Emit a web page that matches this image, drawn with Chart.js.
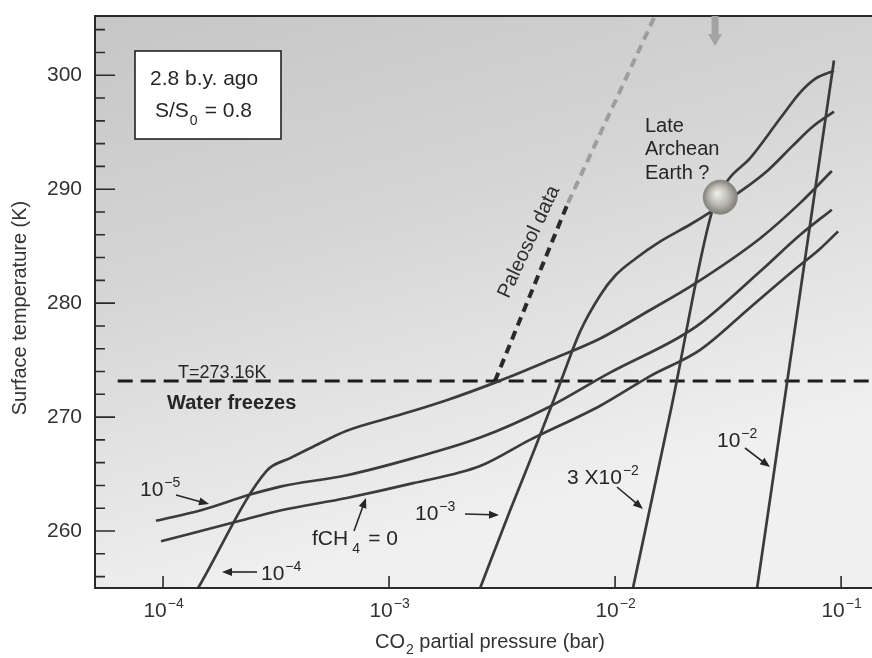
<!DOCTYPE html>
<html lang="en">
<head>
<meta charset="utf-8">
<title>Late Archean surface temperature vs CO2</title>
<script src="https://cdn.jsdelivr.net/npm/chart.js"></script>
<style>
  html, body { margin: 0; padding: 0; background: #fff; }
  canvas { display: block; }
</style>
</head>
<body>
<canvas id="chart" width="872" height="658"></canvas>
<script>
// CO2 partial pressure (bar) -> surface temperature (K)
// fCH4 = 0
const co2None  = [9.8e-5, 2.19e-4, 3.30e-4, 6.5e-4, 1.28e-3, 2.53e-3, 4.2e-3, 8.6e-3, 1.43e-2, 2.38e-2, 3.95e-2, 6.1e-2, 8.1e-2, 9.7e-2];
const tempNone = [259.1, 260.9, 261.8, 262.9, 264.2, 265.7, 268.0, 271.0, 273.6, 275.9, 279.6, 282.8, 284.8, 286.3];
// fCH4 = 1e-5
const co2E5  = [9.3e-5, 1.46e-4, 2.43e-4, 3.30e-4, 6.5e-4, 1.28e-3, 2.53e-3, 5.0e-3, 9.5e-3, 1.88e-2, 2.38e-2, 4.39e-2, 6.6e-2, 9.1e-2];
const tempE5 = [260.9, 261.8, 263.2, 263.9, 264.9, 266.4, 268.2, 270.8, 273.9, 276.9, 278.2, 282.8, 286.0, 288.2];
// fCH4 = 1e-4
const co2E4  = [1.43e-4, 2.88e-4, 3.65e-4, 4.61e-4, 6.5e-4, 1.12e-3, 1.81e-3, 3.10e-3, 5.15e-3, 8.6e-3, 1.43e-2, 2.21e-2, 4.39e-2, 6.6e-2, 9.1e-2];
const tempE4 = [255.0, 265.3, 266.4, 267.4, 268.8, 270.2, 271.5, 273.2, 275.0, 276.9, 279.4, 281.6, 285.7, 288.8, 291.6];
// fCH4 = 1e-3
const co2E3  = [2.53e-3, 3.43e-3, 4.43e-3, 5.72e-3, 7.0e-3, 8.6e-3, 1.0e-2, 1.23e-2, 1.58e-2, 2.15e-2, 2.69e-2, 3.47e-2, 4.71e-2, 6.1e-2, 7.5e-2, 9.3e-2];
const tempE3 = [255.0, 261.8, 267.3, 273.0, 277.5, 280.7, 282.4, 283.9, 285.4, 286.9, 288.1, 289.6, 291.6, 293.8, 295.5, 296.8];
// fCH4 = 3e-2
const co2E2x3  = [1.20e-2, 1.79e-2, 2.69e-2, 3.16e-2, 3.95e-2, 5.37e-2, 6.6e-2, 7.7e-2, 9.3e-2];
const tempE2x3 = [255.0, 271.2, 288.1, 290.8, 292.7, 296.2, 298.5, 299.7, 300.4];
// fCH4 = 1e-2
const co2E2  = [4.25e-2, 9.3e-2];
const tempE2 = [255.0, 301.3];

// freezing point of water
const freezeCO2  = [6.3e-5, 0.14];
const freezeTemp = [273.16, 273.16];
// paleosol constraint (dark part, then faint part)
const paleoCO2   = [2.94e-3, 6.19e-3];
const paleoTemp  = [273.16, 288.8];
const paleoCO2b  = [6.19e-3, 1.50e-2];
const paleoTempb = [288.8, 305.2];
// late Archean Earth marker and the arrow at the top
const archeanCO2  = [2.92e-2];
const archeanTemp = [289.3];
const arrowCO2 = [2.77e-2];

// axes
const xTicks = [1e-4, 1e-3, 1e-2, 1e-1];
const xTickExp = ['\u22124', '\u22123', '\u22122', '\u22121'];
const yTicks = [260, 270, 280, 290, 300];
const yMinor = [256, 258, 262, 264, 266, 268, 272, 274, 276, 278, 282, 284, 286, 288, 292, 294, 296, 298, 302, 304];

const F = '"Liberation Sans", Arial, Helvetica, sans-serif';
const INK = '#262626';
const CURVE = '#3b3b3b';

function pts(xs, ys) { return xs.map((x, i) => ({ x: x, y: ys[i] })); }

function curve(xs, ys) {
  return { data: pts(xs, ys), borderColor: CURVE, borderWidth: 2.7, cubicInterpolationMode: 'monotone' };
}

// text with a superscript (or subscript when shift < 0)
function pow(ctx, base, exp, x, y, size, align, shift) {
  const es = Math.round(size * 0.68);
  ctx.font = size + 'px ' + F;
  const wb = ctx.measureText(base).width;
  ctx.font = es + 'px ' + F;
  const we = ctx.measureText(exp).width;
  let x0 = x;
  if (align === 'center') x0 = x - (wb + we) / 2;
  if (align === 'right') x0 = x - wb - we;
  ctx.textAlign = 'left';
  ctx.textBaseline = 'alphabetic';
  ctx.font = size + 'px ' + F;
  ctx.fillText(base, x0, y);
  ctx.font = es + 'px ' + F;
  ctx.fillText(exp, x0 + wb + 1, y - (shift === undefined ? size * 0.45 : shift));
  return x0 + wb + 1 + we;
}

function arrow(ctx, x1, y1, x2, y2) {
  const a = Math.atan2(y2 - y1, x2 - x1), h = 10, w = 4;
  ctx.beginPath();
  ctx.moveTo(x1, y1);
  ctx.lineTo(x2 - Math.cos(a) * h * 0.7, y2 - Math.sin(a) * h * 0.7);
  ctx.stroke();
  ctx.beginPath();
  ctx.moveTo(x2, y2);
  ctx.lineTo(x2 - h * Math.cos(a) + w * Math.sin(a), y2 - h * Math.sin(a) - w * Math.cos(a));
  ctx.lineTo(x2 - h * Math.cos(a) - w * Math.sin(a), y2 - h * Math.sin(a) + w * Math.cos(a));
  ctx.closePath();
  ctx.fill();
}

const overlay = {
  id: 'overlay',
  beforeDatasetsDraw(chart) {
    const { ctx, chartArea: a } = chart;
    const g = ctx.createLinearGradient(a.left, a.top, a.left + 160, a.bottom);
    g.addColorStop(0, '#c6c6c6');
    g.addColorStop(0.45, '#d5d5d5');
    g.addColorStop(1, '#f0f0f0');
    ctx.save();
    ctx.fillStyle = g;
    ctx.fillRect(a.left, a.top, a.right - a.left, a.bottom - a.top);
    ctx.restore();
  },
  afterDatasetsDraw(chart) {
    const { ctx, chartArea: a } = chart;
    const xs = chart.scales.x, ys = chart.scales.y;
    ctx.save();

    // frame (right side is cut off in the scan)
    ctx.strokeStyle = '#2a2a2a';
    ctx.lineWidth = 2;
    ctx.beginPath();
    ctx.moveTo(a.right, a.top); ctx.lineTo(a.left, a.top);
    ctx.lineTo(a.left, a.bottom); ctx.lineTo(a.right, a.bottom);
    ctx.stroke();

    // inward ticks
    ctx.lineWidth = 1.6;
    ctx.beginPath();
    yTicks.forEach(v => { const y = ys.getPixelForValue(v); ctx.moveTo(a.left, y); ctx.lineTo(a.left + 20, y); });
    yMinor.forEach(v => { const y = ys.getPixelForValue(v); ctx.moveTo(a.left, y); ctx.lineTo(a.left + 10, y); });
    xTicks.forEach(v => { const x = xs.getPixelForValue(v); ctx.moveTo(x, a.bottom); ctx.lineTo(x, a.bottom - 12); });
    ctx.stroke();

    // x tick labels and title
    ctx.fillStyle = '#333';
    xTicks.forEach((v, i) => pow(ctx, '10', xTickExp[i], xs.getPixelForValue(v), 617, 21, 'center'));
    ctx.font = '20px ' + F;
    const t1 = 'CO', t2 = ' partial pressure (bar)';
    let w1 = ctx.measureText(t1).width, w3 = ctx.measureText(t2).width;
    ctx.font = '14px ' + F;
    let w2 = ctx.measureText('2').width;
    let tx = (a.left + a.right) / 2 - (w1 + w2 + w3) / 2 + 6;
    ctx.textAlign = 'left';
    ctx.font = '20px ' + F; ctx.fillText(t1, tx, 648);
    ctx.font = '14px ' + F; ctx.fillText('2', tx + w1 + 1, 654);
    ctx.font = '20px ' + F; ctx.fillText(t2, tx + w1 + w2 + 1, 648);

    // y title
    ctx.save();
    ctx.translate(20, 308);
    ctx.rotate(-Math.PI / 2);
    ctx.textAlign = 'center';
    ctx.textBaseline = 'middle';
    ctx.font = '20px ' + F;
    ctx.fillText('Surface temperature (K)', 0, 0);
    ctx.restore();

    // info box
    ctx.fillStyle = '#fff';
    ctx.fillRect(135, 51, 146, 88);
    ctx.strokeStyle = '#222';
    ctx.lineWidth = 1.6;
    ctx.strokeRect(135, 51, 146, 88);
    ctx.fillStyle = INK;
    ctx.textAlign = 'left';
    ctx.textBaseline = 'alphabetic';
    ctx.font = '21px ' + F;
    ctx.fillText('2.8 b.y. ago', 150, 85);
    const ex = pow(ctx, 'S/S', '0', 155, 117, 21, 'left', -8);
    ctx.font = '21px ' + F;
    ctx.fillText('= 0.8', ex + 7, 117);

    // freezing line labels
    ctx.font = '18px ' + F;
    ctx.fillText('T=273.16K', 178, 378);
    ctx.font = 'bold 20px ' + F;
    ctx.fillText('Water freezes', 167, 409);

    // curve labels with arrows
    ctx.strokeStyle = INK;
    ctx.fillStyle = INK;
    ctx.lineWidth = 1.6;
    pow(ctx, '10', '\u22125', 140, 496, 21, 'left');
    arrow(ctx, 176, 495, 209, 504);

    ctx.font = '21px ' + F;
    ctx.fillText('fCH', 312, 545);
    let wf = ctx.measureText('fCH').width;
    ctx.font = '14px ' + F;
    ctx.fillText('4', 312 + wf + 4, 553);
    ctx.font = '21px ' + F;
    ctx.fillText('= 0', 312 + wf + 20, 545);
    arrow(ctx, 354, 531, 366, 498);

    arrow(ctx, 257, 572, 222, 572);
    pow(ctx, '10', '\u22124', 261, 580, 21, 'left');

    pow(ctx, '10', '\u22123', 415, 520, 21, 'left');
    arrow(ctx, 465, 514, 499, 515);

    pow(ctx, '3 X10', '\u22122', 567, 484, 21, 'left');
    arrow(ctx, 617, 487, 643, 509);

    pow(ctx, '10', '\u22122', 717, 447, 21, 'left');
    arrow(ctx, 745, 448, 770, 467);

    // Late Archean Earth label
    ctx.font = '20px ' + F;
    ctx.fillText('Late', 645, 132);
    ctx.fillText('Archean', 645, 155);
    ctx.fillText('Earth ?', 645, 179);

    // paleosol label
    ctx.save();
    ctx.translate(529, 242);
    ctx.rotate(-65 * Math.PI / 180);
    ctx.textAlign = 'center';
    ctx.textBaseline = 'middle';
    ctx.font = '20px ' + F;
    ctx.fillStyle = '#2e2e2e';
    ctx.fillText('Paleosol data', 0, 0);
    ctx.restore();

    // Late Archean Earth marker
    const bx = xs.getPixelForValue(archeanCO2[0]);
    const by = ys.getPixelForValue(archeanTemp[0]);
    const r = 17;
    const bg = ctx.createRadialGradient(bx - 3, by - 4, 1, bx, by, r);
    bg.addColorStop(0, '#ecece6');
    bg.addColorStop(0.55, '#b9b9b1');
    bg.addColorStop(1, '#808078');
    ctx.fillStyle = bg;
    ctx.beginPath();
    ctx.arc(bx, by, r, 0, Math.PI * 2);
    ctx.fill();
    ctx.strokeStyle = '#8a8a84';
    ctx.lineWidth = 1;
    ctx.stroke();

    // gray arrow at the top
    const ax = xs.getPixelForValue(arrowCO2[0]);
    ctx.fillStyle = '#a3a3a3';
    ctx.fillRect(ax - 3.5, a.top, 7, 20);
    ctx.beginPath();
    ctx.moveTo(ax - 7, a.top + 18);
    ctx.lineTo(ax + 7, a.top + 18);
    ctx.lineTo(ax, a.top + 30);
    ctx.closePath();
    ctx.fill();

    ctx.restore();
  }
};

Chart.defaults.font.family = F;

new Chart(document.getElementById('chart'), {
  type: 'scatter',
  data: {
    datasets: [
      curve(co2None, tempNone),
      curve(co2E5, tempE5),
      curve(co2E4, tempE4),
      curve(co2E3, tempE3),
      curve(co2E2x3, tempE2x3),
      curve(co2E2, tempE2),
      { data: pts(freezeCO2, freezeTemp), borderColor: '#1c1c1c', borderWidth: 3, borderDash: [15, 8] },
      { data: pts(paleoCO2, paleoTemp), borderColor: '#2a2a2a', borderWidth: 4, borderDash: [9, 6] },
      { data: pts(paleoCO2b, paleoTempb), borderColor: '#9e9e9e', borderWidth: 4, borderDash: [9, 6] }
    ]
  },
  options: {
    responsive: false,
    animation: false,
    showLine: true,
    layout: { padding: { top: 16, right: 0, left: 0, bottom: 0 } },
    elements: { point: { radius: 0, hoverRadius: 0 } },
    plugins: { legend: { display: false }, tooltip: { enabled: false } },
    scales: {
      x: {
        type: 'logarithmic',
        min: 5.0e-5,
        max: 0.137,
        grid: { display: false },
        border: { display: false },
        ticks: { display: false },
        afterBuildTicks: s => { s.ticks = xTicks.map(v => ({ value: v })); },
        afterFit: s => { s.height = 70; s.paddingLeft = 0; s.paddingRight = 0; }
      },
      y: {
        min: 255,
        max: 305.2,
        grid: { display: false, drawTicks: false },
        border: { display: false },
        ticks: { color: '#333', font: { size: 21 }, padding: 13 },
        afterBuildTicks: s => { s.ticks = yTicks.map(v => ({ value: v })); },
        afterFit: s => { s.width = 95; s.paddingTop = 0; s.paddingBottom = 0; }
      }
    }
  },
  plugins: [overlay]
});
</script>
</body>
</html>
